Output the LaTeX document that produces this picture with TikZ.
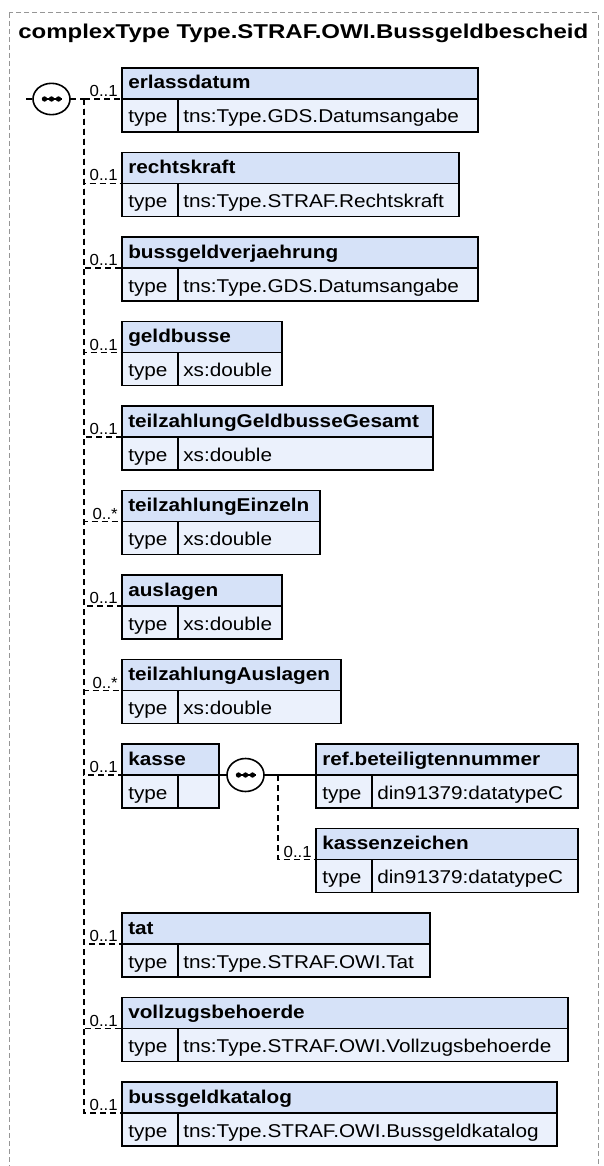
\documentclass[tikz,border=0pt]{standalone}
\usepackage{fontspec}
\setmainfont{Liberation Sans}
\newfontfamily\boxfnt[FakeStretch=1.12]{Liberation Sans}
\newfontfamily\titlefnt[FakeStretch=1.2]{Liberation Sans}
\newfontfamily\lblfnt[FakeStretch=1.05]{Liberation Sans}
\usetikzlibrary{calc,shapes.geometric}
\definecolor{hdrblue}{RGB}{214,226,248}
\definecolor{rowblue}{RGB}{235,241,252}
\definecolor{framegray}{RGB}{150,150,150}
\tikzset{
  hdrbox/.style={draw=black, fill=hdrblue, line width=1.2pt, inner sep=0pt, outer sep=0pt, minimum height=23.25pt},
  rowbox/.style={draw=black, fill=rowblue, line width=1.2pt, inner sep=0pt, outer sep=0pt, minimum height=24.75pt},
  namelbl/.style={font=\boxfnt\bfseries\fontsize{13.9pt}{15pt}\selectfont, inner sep=0pt},
  typelbl/.style={font=\boxfnt\fontsize{13.9pt}{15pt}\selectfont, inner sep=0pt},
  occlbl/.style={font=\lblfnt\fontsize{12pt}{13pt}\selectfont, inner sep=0pt, anchor=base east},
  opt/.style={draw=black, line width=1.2pt, dash pattern=on 4.5pt off 3pt},
  req/.style={draw=black, line width=1.2pt},
  seqsym/.style={ellipse, draw=black, fill=white, line width=1.2pt, inner sep=0pt, outer sep=0pt, minimum width=27.75pt, minimum height=23.5pt},
  framebox/.style={draw=framegray, line width=0.75pt, dash pattern=on 3.5pt off 2.5pt}
}
\newcommand\elembox[6]{%
  \node[hdrbox, minimum width={#4*0.75pt}, anchor=north west] (#1) at (#2,#3) {};
  \node[namelbl, anchor=base west] (#1n) at ($(#1.south west)+(6,-10)$) {#5};
  \node[rowbox, minimum width={56*0.75pt}, anchor=north west] (#1k) at (#1.south west) {};
  \node[rowbox, minimum width={(#4-56)*0.75pt}, anchor=north west] (#1v) at (#1k.north east) {};
  \node[typelbl, anchor=base west] (#1kt) at ($(#1k.south west)+(6,-9)$) {type};
  \node[typelbl, anchor=base west] (#1vt) at ($(#1v.south west)+(5,-9)$) {#6};
}
\newcommand\seqdots[1]{%
  \draw[line width=1.1pt] ($(#1)+(-10,0)$) -- ($(#1)+(10,0)$);
  \foreach \dx in {-7,0,7} \fill ($(#1)+(\dx,0)$) circle (2pt);
}
\begin{document}
\begin{tikzpicture}[x=0.75pt,y=-0.75pt]
\useasboundingbox (0,0) rectangle (603,1166);
\clip (0,0) rectangle (603,1166);
\draw[framebox] (9,13) rectangle (598,1190);
\node[anchor=base west, inner sep=0pt, font=\titlefnt\bfseries\fontsize{15pt}{16pt}\selectfont] (title) at (18,39) {complexType Type.STRAF.OWI.Bussgeldbescheid};

% element boxes
\elembox{e0}{122}{68}{356}{erlassdatum}{tns:Type.GDS.Datumsangabe}
\elembox{e1}{122}{152.5}{337}{rechtskraft}{tns:Type.STRAF.Rechtskraft}
\elembox{e2}{122}{237}{356}{bussgeldverjaehrung}{tns:Type.GDS.Datumsangabe}
\elembox{e3}{122}{321.5}{160}{geldbusse}{xs:double}
\elembox{e4}{122}{406}{311}{teilzahlungGeldbusseGesamt}{xs:double}
\elembox{e5}{122}{490.5}{198}{teilzahlungEinzeln}{xs:double}
\elembox{e6}{122}{575}{160}{auslagen}{xs:double}
\elembox{e7}{122}{659.5}{219}{teilzahlungAuslagen}{xs:double}
\elembox{e8}{122}{744}{97}{kasse}{}
\elembox{k1}{316}{744}{262}{ref.beteiligtennummer}{din91379:datatypeC}
\elembox{k2}{316}{828.5}{262}{kassenzeichen}{din91379:datatypeC}
\elembox{e9}{122}{913}{308}{tat}{tns:Type.STRAF.OWI.Tat}
\elembox{e10}{122}{997.5}{446}{vollzugsbehoerde}{tns:Type.STRAF.OWI.Vollzugsbehoerde}
\elembox{e11}{122}{1082}{435}{bussgeldkatalog}{tns:Type.STRAF.OWI.Bussgeldkatalog}

% main sequence
\node[seqsym] (seq1) at (51.5,99) {};
\seqdots{seq1}
\coordinate (s0) at (26,99);
\coordinate (j1) at (84,99);
\draw[opt] (s0) -- (seq1.west);
\draw[opt] (seq1.east) -- (j1);
\foreach \e in {e0,e1,e2,e3,e4,e5,e6,e7,e8,e9,e10,e11} {
  \draw[opt] (j1) |- (\e.south west);
}
\foreach \e/\t in {e0/0..1,e1/0..1,e2/0..1,e3/0..1,e4/0..1,e5/0..*,e6/0..1,e7/0..*,e8/0..1,e9/0..1,e10/0..1,e11/0..1} {
  \node[occlbl] (\e o) at ($(\e.south west)+(-4,-2.5)$) {\t};
}

% kasse sequence
\node[seqsym, minimum height=24.75pt] (seq2) at (245.5,775) {};
\seqdots{seq2}
\coordinate (j2) at (278,775);
\draw[req] (e8.south east) -- (seq2.west);
\draw[req] (seq2.east) -- (k1.south west);
\draw[opt] (j2) |- (k2.south west);
\node[occlbl] (k2o) at ($(k2.south west)+(-4,-2.5)$) {0..1};
\end{tikzpicture}
\end{document}
